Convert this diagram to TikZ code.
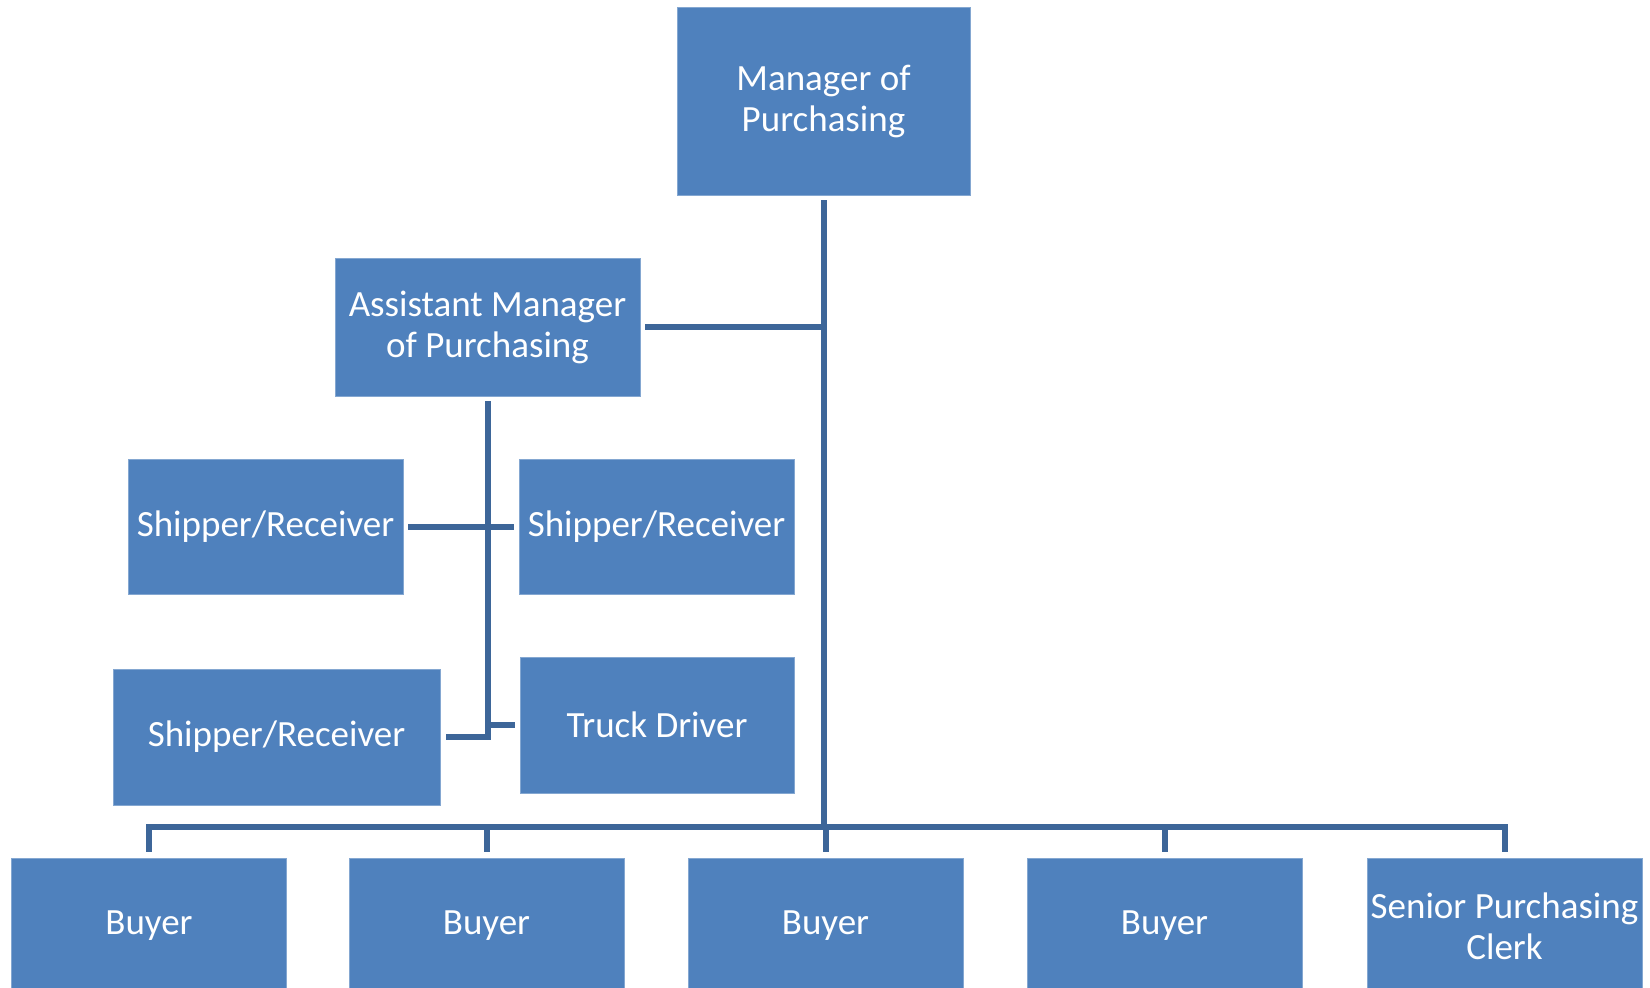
\documentclass[tikz,border=0pt]{standalone}
\usepackage{fontspec}
\setmainfont{Carlito}
\definecolor{boxblue}{HTML}{4F81BD}
\definecolor{lineblue}{HTML}{3D6699}
\begin{document}
\begin{tikzpicture}[x=1pt,y=-1pt,
  orgbox/.style={fill=boxblue,draw=boxblue!70!white,line width=0.8pt,inner sep=0pt,text=white,align=center,
    font=\fontsize{37pt}{41pt}\selectfont},
  link/.style={draw=lineblue,line width=6pt}]
\useasboundingbox (0,0) rectangle (1650,988);
\clip (0,0) rectangle (1650,988);
\node[orgbox,minimum width=293pt,minimum height=188pt] (mgr) at (823.5,101) {Manager of\\Purchasing};
\node[orgbox,minimum width=305pt,minimum height=138pt] (asst) at (487.5,327) {Assistant Manager\\of Purchasing};
\node[orgbox,minimum width=275pt,minimum height=135pt] (sr1) at (265.5,526.5) {Shipper/Receiver};
\node[orgbox,minimum width=275pt,minimum height=135pt] (sr2) at (656.5,526.5) {Shipper/Receiver};
\node[orgbox,minimum width=327pt,minimum height=136pt] (sr3) at (276.5,737) {Shipper/Receiver};
\node[orgbox,minimum width=274pt,minimum height=136pt] (truck) at (657,725) {Truck Driver};
\node[orgbox,minimum width=275pt,minimum height=136pt] (b1) at (149,926) {Buyer};
\node[orgbox,minimum width=275pt,minimum height=136pt] (b2) at (486.5,926) {Buyer};
\node[orgbox,minimum width=275pt,minimum height=136pt] (b3) at (825.5,926) {Buyer};
\node[orgbox,minimum width=275pt,minimum height=136pt] (b4) at (1164.5,926) {Buyer};
\node[orgbox,minimum width=275pt,minimum height=136pt] (b5) at (1504.5,926) {Senior Purchasing\\Clerk};
\coordinate (bar) at (824,827);
% manager to bar
\draw[link] ([yshift=-5pt]mgr.south) -- (mgr.south |- bar);
% bar and drops
\draw[link] ([yshift=6pt]b1.north) |- (bar) -| ([yshift=6pt]b5.north);
\draw[link] ([yshift=6pt]b2.north) -- (b2.north |- bar);
\draw[link] ([yshift=6pt]b3.north) -- (b3.north |- bar);
\draw[link] ([yshift=6pt]b4.north) -- (b4.north |- bar);
% assistant to manager line
\draw[link] ([xshift=5pt]asst.east) -- (asst.east -| mgr.south);
% assistant vertical and shipper/receiver
\draw[link] ([yshift=-5pt]asst.south) -- (asst.south |- sr3.east) -- ([xshift=6pt]sr3.east);
\draw[link] ([xshift=5pt]sr1.east) -- ([xshift=-5pt]sr2.west);
\draw[link] (asst.south |- truck.west) -- ([xshift=-5pt]truck.west);
\end{tikzpicture}
\end{document}
